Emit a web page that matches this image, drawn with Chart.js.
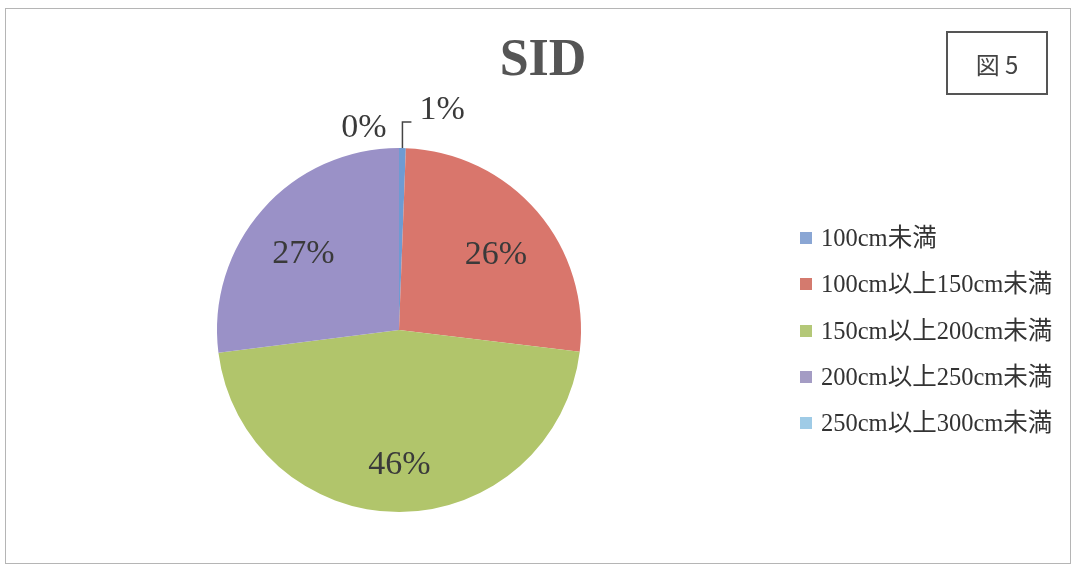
<!DOCTYPE html>
<html>
<head>
<meta charset="utf-8">
<script src="https://cdn.jsdelivr.net/npm/chart.js@4/dist/chart.umd.min.js"></script>
<style>
  html, body { margin: 0; padding: 0; background: #fff; }
  #wrap { position: relative; width: 1072px; height: 566px; overflow: hidden; background: #fff; }
  #c { position: absolute; left: 0; top: 0; }
  #frame { position: absolute; left: 5px; top: 8px; width: 1066px; height: 556px; border: 1px solid #b5b5b5; box-sizing: border-box; }
  #title { position: absolute; left: 443px; width: 200px; top: 28px; text-align: center; font-family: "Liberation Serif", "DejaVu Serif", serif; font-weight: bold; font-size: 52px; line-height: 60px; color: #555; }
  #fig { position: absolute; left: 946px; top: 31px; width: 102px; height: 64px; border: 2px solid #555; box-sizing: border-box; font-family: "Noto Sans CJK JP", serif; font-size: 24px; color: #444; display: flex; align-items: center; justify-content: center; }
  #legend { position: absolute; left: 800px; top: 223px; font-family: "Liberation Serif", "Noto Sans CJK JP", serif; font-size: 24.5px; color: #333; }
  .row { position: absolute; left: 0; height: 30px; white-space: nowrap; }
  .sw { position: absolute; left: 0; top: 9px; width: 12px; height: 12px; }
  .tx { position: absolute; left: 21px; top: 0; line-height: 30px; }
</style>
</head>
<body>
<div id="wrap">
  <canvas id="c" width="1072" height="566"></canvas>
  <div id="frame"></div>
  <div id="title"></div>
  <div id="fig"></div>
  <div id="legend"></div>
</div>
<script>
const chartTitle = "SID";
const figureLabel = "図 5";
const categories = ["100cm未満", "100cm以上150cm未満", "150cm以上200cm未満", "200cm以上250cm未満", "250cm以上300cm未満"];
const percentages = [0.6, 26.3, 46.1, 27.0, 0];
const sliceColors = ["#6f9bd2", "#d9766c", "#b1c56b", "#9a91c7", "#8fc3e0"];
const legendColors = ["#8aa6d4", "#d47a6e", "#b4c878", "#a49cc4", "#9fcbe6"];

document.getElementById('title').textContent = chartTitle;
document.getElementById('fig').textContent = figureLabel;

const legend = document.getElementById('legend');
categories.forEach((name, i) => {
  const row = document.createElement('div');
  row.className = 'row';
  row.style.top = (i * 46.3) + 'px';
  const sw = document.createElement('span');
  sw.className = 'sw';
  sw.style.background = legendColors[i];
  const tx = document.createElement('span');
  tx.className = 'tx';
  tx.textContent = name;
  row.appendChild(sw);
  row.appendChild(tx);
  legend.appendChild(row);
});

const labelPlugin = {
  id: 'pctLabels',
  afterDatasetsDraw(chart) {
    const ctx = chart.ctx;
    const meta = chart.getDatasetMeta(0);
    const data = chart.data.datasets[0].data;
    ctx.save();
    ctx.font = '34px "Liberation Serif", "DejaVu Serif", serif';
    ctx.fillStyle = '#3a3a3a';
    ctx.textAlign = 'center';
    ctx.textBaseline = 'middle';
    meta.data.forEach((arc, i) => {
      const p = arc.getProps(['x', 'y', 'startAngle', 'endAngle', 'outerRadius'], true);
      const v = data[i];
      const txt = Math.round(v) + '%';
      const mid = (p.startAngle + p.endAngle) / 2;
      if (v >= 2) {
        const r = p.outerRadius * 0.7;
        ctx.fillText(txt, p.x + Math.cos(mid) * r, p.y + Math.sin(mid) * r + 8);
      } else if (v > 0) {
        const ax = p.x + Math.cos(mid) * p.outerRadius;
        const ay = p.y + Math.sin(mid) * p.outerRadius;
        ctx.strokeStyle = '#444';
        ctx.lineWidth = 1.5;
        ctx.beginPath();
        ctx.moveTo(ax, ay);
        ctx.lineTo(ax, ay - 26);
        ctx.lineTo(ax + 9, ay - 26);
        ctx.stroke();
        ctx.textAlign = 'left';
        ctx.fillText(txt, ax + 17, ay - 38);
        ctx.textAlign = 'center';
      } else {
        const ax = p.x + Math.cos(p.endAngle) * p.outerRadius;
        const ay = p.y + Math.sin(p.endAngle) * p.outerRadius;
        ctx.fillText(txt, ax - 35, ay - 20);
      }
    });
    ctx.restore();
  }
};

new Chart(document.getElementById('c'), {
  type: 'pie',
  data: {
    labels: categories,
    datasets: [{
      data: percentages,
      backgroundColor: sliceColors,
      borderWidth: 0
    }]
  },
  options: {
    responsive: false,
    animation: false,
    devicePixelRatio: 1,
    layout: { padding: { left: 217, right: 491, top: 148, bottom: 54 } },
    plugins: {
      legend: { display: false },
      tooltip: { enabled: false },
      title: { display: false }
    }
  },
  plugins: [labelPlugin]
});
</script>
</body>
</html>
